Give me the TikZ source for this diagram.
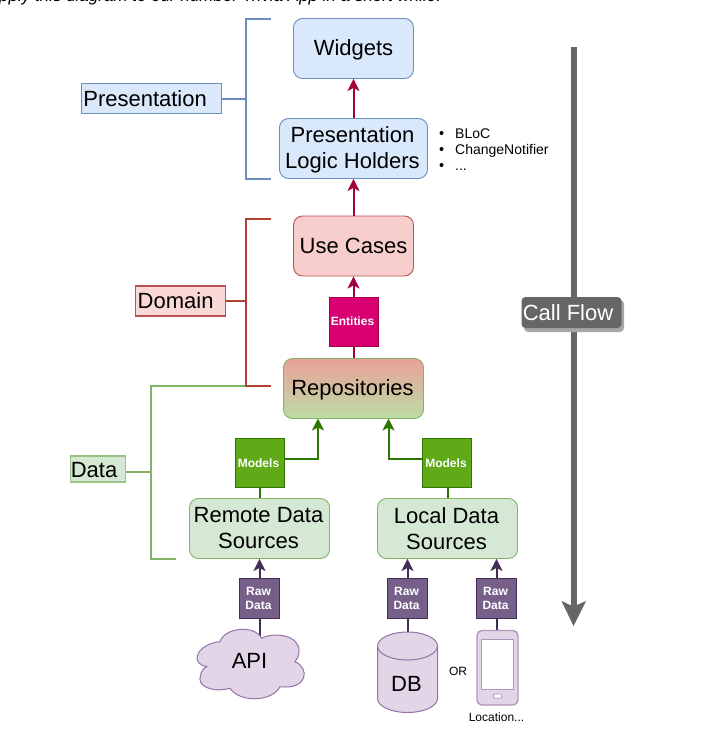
\documentclass[tikz,border=0pt]{standalone}
\usepackage{fontspec}
\setmainfont{Liberation Sans}
\usetikzlibrary{arrows.meta}
\definecolor{blueF}{HTML}{DAE8FC}\definecolor{blueD}{HTML}{6C8EBF}
\definecolor{redF}{HTML}{F8CECC}\definecolor{redD}{HTML}{B85450}
\definecolor{brack}{HTML}{AE4132}
\definecolor{greenF}{HTML}{D5E8D4}\definecolor{greenD}{HTML}{82B366}
\definecolor{repoT}{HTML}{EAA199}\definecolor{repoB}{HTML}{BCDCA5}
\definecolor{crim}{HTML}{A50040}\definecolor{pink}{HTML}{D80073}
\definecolor{modF}{HTML}{60A917}\definecolor{modD}{HTML}{2D7600}
\definecolor{purF}{HTML}{76608A}\definecolor{purD}{HTML}{432D57}
\definecolor{liF}{HTML}{E1D5E7}\definecolor{liD}{HTML}{9673A6}
\definecolor{flow}{HTML}{666666}
\newcommand{\dn}[1]{\raisebox{-1pt}[\height][\depth]{#1}}
\newcommand{\lft}[1]{#1\hspace*{2pt}}
\tikzset{x=1pt,y=-1pt,
 box/.style={draw,rounded corners=9pt,line width=.9pt,align=center,font=\fontsize{22}{26}\selectfont,inner sep=0pt},
 bluebox/.style={box,draw=blueD,fill=blueF},
 greenbox/.style={box,draw=greenD,fill=greenF},
 tag/.style={draw,rectangle,line width=1pt,anchor=center,inner sep=0pt,text=white,align=center,font=\bfseries\fontsize{12}{14}\selectfont},
 rawtag/.style={tag,draw=purD,fill=purF,minimum width=40pt,minimum height=40pt},
 modtag/.style={tag,draw=modD,fill=modF,minimum width=49pt,minimum height=49pt},
 legend/.style={draw,rectangle,inner sep=0pt,line width=1.2pt,font=\fontsize{22}{26}\selectfont,anchor=west},
 lnk/.style={line width=2pt},
 arr/.style={lnk,-{Stealth[length=12pt,width=12pt,inset=3pt]}},
 brk/.style={line width=2pt},
 big/.style={font=\fontsize{22}{26}\selectfont},
 small/.style={font=\fontsize{12}{14}\selectfont},
 listtext/.style={font=\fontsize{14}{16}\selectfont,anchor=base west,inner sep=0pt},
 shapeli/.style={draw=liD,fill=liF,line width=1pt},
}
\begin{document}
\begin{tikzpicture}
\useasboundingbox (0,0) rectangle (724,736);
\fill[white] (0,0) rectangle (724,736);
% top text
\node[anchor=base west,inner sep=0pt,font=\itshape\fontsize{17}{18}\selectfont] (top) at (-1,1.5) {pply this diagram to our number Trivia App in a short while.};
% nodes
\node[bluebox,minimum width=120pt,minimum height=60pt] (w) at (353.5,48.5) {\dn{Widgets}};
\node[bluebox,minimum width=148pt,minimum height=60pt] (p) at (353.5,148.5) {\dn{\lft{Presentation}}\\\dn{\lft{Logic Holders}}};
\node[box,draw=redD,fill=redF,minimum width=120pt,minimum height=60pt] (u) at (353.5,246) {Use Cases};
\node[box,draw=greenD,top color=repoT,bottom color=repoB,minimum width=140pt,minimum height=60pt] (r) at (353.5,388.5) {\dn{\lft{Repositories}}};
\node[greenbox,minimum width=140pt,minimum height=60pt] (rd) at (259.5,528.5) {\lft{Remote Data}\\\lft{Sources}};
\node[greenbox,minimum width=140pt,minimum height=60pt] (ld) at (447.5,528.5) {\lft{Local Data}\\\lft{Sources}};
\node[tag,draw=crim,fill=pink,minimum width=49pt,minimum height=49pt] (e) at (353.5,321.5) {\lft{Entities}};
\node[modtag] (m1) at (259.5,463) {\lft{Models}};
\node[modtag] (m2) at (447,463) {\lft{Models}};
\node[rawtag] (t1) at (259.5,598.5) {\lft{Raw}\\\lft{Data}};
\node[rawtag] (t2) at (407.5,598.5) {\lft{Raw}\\\lft{Data}};
\node[rawtag] (t3) at (496.5,598.5) {\lft{Raw}\\\lft{Data}};
% connector ends at the sources
\coordinate (apitop) at (259.5,637);
\coordinate (dbtop) at (407.5,632);
\coordinate (phtop) at (496.5,630);
\draw[lnk,purD] (t1.south) -- (apitop);
\draw[lnk,purD] (t2.south) -- (dbtop);
\draw[lnk,purD] (t3.south) -- (phtop);
% cloud
\draw[shapeli] (197.3,656.7)
  .. controls (198,648) and (212,642) .. (220,641.7)
  .. controls (224,628) and (254,624) .. (261.7,638.3)
  .. controls (272,632) and (300,634) .. (299,651.7)
  .. controls (299,655) and (297,659) .. (295,661.7)
  .. controls (310,668) and (308,690) .. (280,686.7)
  .. controls (272,702) and (240,703) .. (230,688.3)
  .. controls (212,693) and (196,686) .. (200.7,675)
  .. controls (201,671) and (204,668) .. (206.7,666.7)
  .. controls (199,665) and (196,661) .. (197.3,656.7) -- cycle;
\node[big] (api) at (249.5,661) {API};
% database
\draw[shapeli] (377.5,646) arc[start angle=180,end angle=0,x radius=30,y radius=-14] -- (437.5,698.5) arc[start angle=0,end angle=-180,x radius=30,y radius=-14] -- cycle;
\draw[shapeli,fill=none] (377.5,646) arc[start angle=180,end angle=360,x radius=30,y radius=-14];
\node[big] (db) at (406.5,684) {DB};
% phone
\draw[draw=liD!75,fill=liF,line width=1.4pt,rounded corners=5pt] (477,630.5) rectangle (518,705);
\draw[draw=liD!75,fill=white,line width=1pt] (481.7,639.5) rectangle (513.3,689.3);
\draw[draw=liD!75,fill=white,line width=.8pt,rounded corners=1pt] (493.5,694) rectangle (501.7,698.3);
\node[small] (or) at (458,671) {OR};
\node[small] (loc) at (496.5,717.5) {Location...};
% list
\node[listtext] (li1) at (455,138) {BLoC};
\node[listtext] (li2) at (455,154) {ChangeNotifier};
\node[listtext] (li3) at (455,170) {...};
\foreach \yy in {133,149,165} \fill (441.5,\yy) circle (2pt);
% connectors
\draw[arr,crim] (p.north) -- (w.south);
\draw[arr,crim] (u.north) -- (p.south);
\draw[arr,crim] (e.north) -- (u.south);
\draw[lnk,crim] (r.north) -- (e.south);
\draw[lnk,modD] (rd.north) -- (rd.north|-m1.south);
\draw[lnk,modD] (ld.north) -- (ld.north|-m2.south);
\coordinate (ra) at (318,418.5);\coordinate (rb) at (388.5,418.5);
\draw[arr,modD] (m1.east|-0,458.5) -| (ra);
\draw[arr,modD] (m2.west|-0,458.5) -| (rb);
\draw[arr,purD] (t1.north) -- (rd.south);
\draw[arr,purD] (t2.north) -- (t2.north|-ld.south);
\draw[arr,purD] (t3.north) -- (t3.north|-ld.south);
% legends & brackets
\node[legend,draw=blueD,fill=blueF,minimum width=140pt,minimum height=30pt] (lp) at (81,98.5) {Presentation\hspace*{13pt}};
\node[legend,draw=redD,fill=redF!80!white,minimum width=90pt,minimum height=30pt] (ldm) at (135,301) {Domain\hspace*{10pt}};
\node[legend,draw=greenD!80,fill=greenF,minimum width=55pt,minimum height=26pt] (lda) at (70,469) {\raisebox{-1.5pt}[\height][\depth]{Data}\hspace*{8pt}};
\draw[brk,blueD] (271,19) -- (246,19) -- (246,178.5) -- (271,178.5);
\draw[brk,blueD] (lp.east) -- (246,98.5);
\draw[brk,greenD] (246,385.5) -- (151,385.5) -- (151,559) -- (176,559);
\draw[brk,greenD] (lda.east|-0,472) -- (151,472);
\draw[brk,brack] (271,219) -- (246,219) -- (246,385.5) -- (271,385.5);
\draw[brk,brack] (ldm.east) -- (246,301);
% call flow
\coordinate (cf1) at (573.5,47);\coordinate (cf2) at (573.5,626);
\draw[flow,line width=6pt] (cf1) -- (573.5,610);
\fill[flow] (cf2) -- (561.5,601) -- (573.5,606.5) -- (586,601) -- cycle;
\fill[black!35,rounded corners=4pt] (524,300) rectangle (624,332);
\node[fill=flow,rounded corners=4pt,text=white,inner sep=0pt,minimum width=100pt,minimum height=31pt,font=\fontsize{22}{26}\selectfont] (cf) at (571.5,312.5) {Call Flow\hspace*{7pt}};
\end{tikzpicture}
\end{document}
